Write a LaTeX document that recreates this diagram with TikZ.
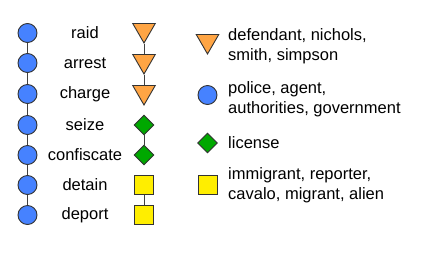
\documentclass[tikz,border=0pt]{standalone}
\usepackage{fontspec}
\setmainfont{Liberation Sans}
\usetikzlibrary{shapes.geometric}
\definecolor{cblue}{HTML}{4682FF}
\definecolor{corange}{HTML}{FFA544}
\definecolor{cgreen}{HTML}{00A800}
\definecolor{cyellow}{HTML}{FFEE00}
\begin{document}
\begin{tikzpicture}[x=1pt,y=-1pt,
  every node/.style={font=\fontsize{16.5}{19.5}\selectfont, inner sep=0pt},
  circ/.style={circle, draw=black!80, line width=0.9pt, fill=cblue, minimum size=19pt},
  tri/.style={regular polygon, regular polygon sides=3, shape border rotate=180, draw=black!80, line width=0.9pt, fill=corange, minimum size=26pt, inner sep=0pt},
  dia/.style={diamond, draw=black!80, line width=0.9pt, fill=cgreen, minimum size=20pt},
  sq/.style={rectangle, draw=black!80, line width=0.9pt, fill=cyellow, minimum size=19pt},
  lbl/.style={anchor=center},
  leg/.style={anchor=west, align=left},
  link/.style={draw=black!75, line width=1pt}]
\useasboundingbox (0,0) rectangle (428,258);
\foreach \n/\y/\t in {1/33/raid,2/63/arrest,3/94/charge,4/125/seize,5/155/confiscate,6/185/detain,7/215/deport}{
  \node[circ] (c\n) at (27.5,\y) {};
  \node[lbl] (l\n) at (85,\y) {\t};
}
\foreach \a/\b in {1/2,2/3,3/4,4/5,5/6,6/7}{
  \draw[link] (c\a) -- (c\b);
}
\node[tri] (t1) at (144,30) {};
\node[tri] (t2) at (144,61) {};
\node[tri] (t3) at (144,92) {};
\node[dia] (d1) at (144,125) {};
\node[dia] (d2) at (144,155) {};
\node[sq] (s1) at (144,185) {};
\node[sq] (s2) at (144,215) {};
\draw[link] (t1) -- (t2);
\draw[link] (t2) -- (t3);
\draw[link] (d1) -- (d2);
\draw[link] (s1) -- (s2);
% legend
\node[tri] (lt) at (207.5,41) {};
\node[leg] (ltx) at (228,46) {defendant, nichols,\\smith, simpson};
\node[circ] (lc) at (207.5,95) {};
\node[leg] (lcx) at (228,99) {police, agent,\\authorities, government};
\node[dia] (ld) at (207.5,143) {};
\node[leg] (ldx) at (228,143) {license};
\node[sq] (ls) at (207.5,185) {};
\node[leg] (lsx) at (228,185) {immigrant, reporter,\\cavalo, migrant, alien};
\end{tikzpicture}
\end{document}
